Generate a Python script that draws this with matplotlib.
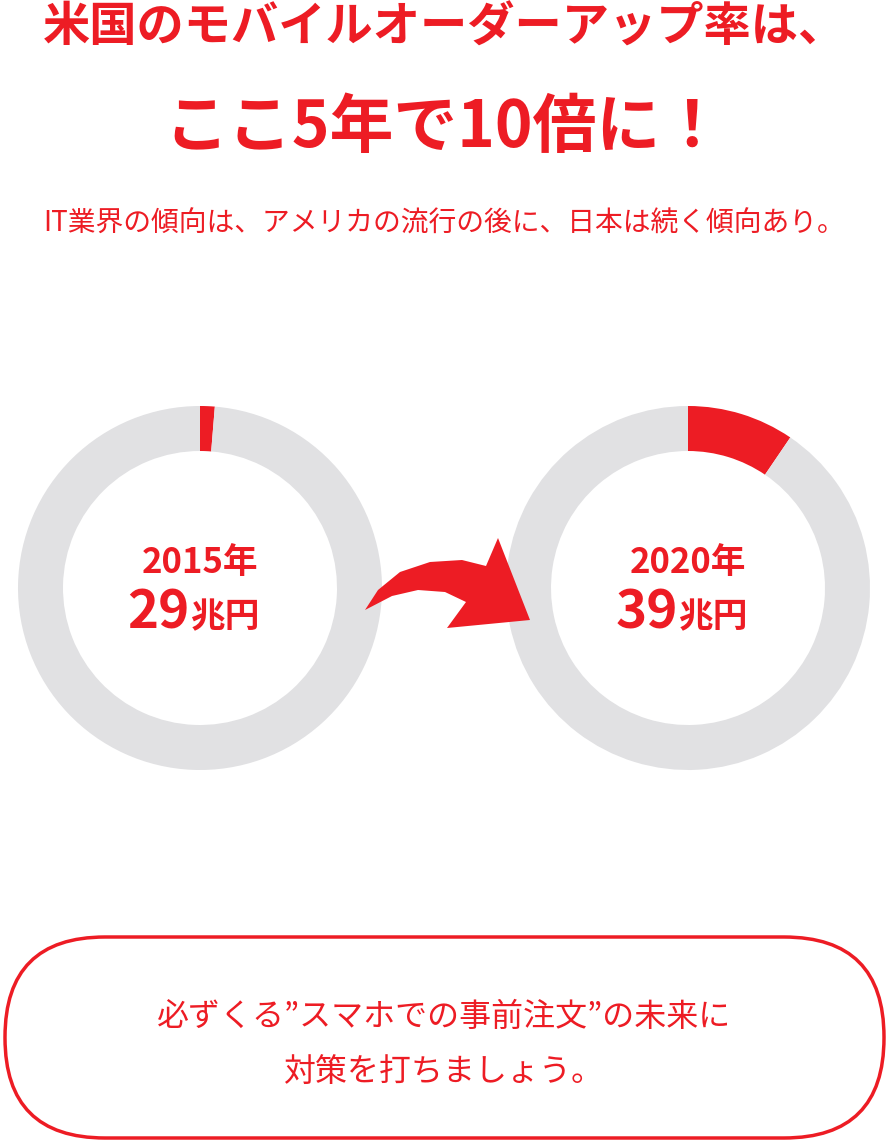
import matplotlib
matplotlib.use("Agg")
import matplotlib.pyplot as plt
from matplotlib.patches import FancyBboxPatch, Polygon

plt.rcParams['font.family'] = ['Noto Sans CJK JP', 'DejaVu Sans']

RED = '#ED1C24'
GRAY = '#E1E1E3'

years = ['2015年', '2020年']
amounts = ['29', '39']
mobile_share = [1.3, 9.5]   # % of the ring in red
centers = [(200, 588), (688, 588)]

fig = plt.figure(figsize=(8.89, 11.42), dpi=100)
ax = fig.add_axes([0, 0, 1, 1])

for (cx, cy), share, yr, amt in zip(centers, mobile_share, years, amounts):
    # y axis is inverted, so counterclock in data = clockwise on screen
    ax.pie([share, 100 - share], colors=[RED, GRAY], startangle=-90, counterclock=True,
           center=(cx, cy), radius=182, wedgeprops=dict(width=45, linewidth=0))
    ax.text(cx, cy - 25, yr, ha='center', va='center', fontsize=25, fontweight='bold', color=RED)
    ax.text(cx - 10, cy + 25, amt, ha='right', va='center', fontsize=38, fontweight='bold', color=RED)
    ax.text(cx - 10, cy + 29, '兆円', ha='left', va='center', fontsize=25, fontweight='bold', color=RED)

# curved arrow between the rings
arrow = Polygon([(365, 610), (378, 590), (400, 572), (430, 562), (462, 560), (486, 566),
                 (498, 538), (530, 620), (447, 628), (466, 602), (445, 592),
                 (418, 590), (392, 596)], closed=True, color=RED, lw=0)
ax.add_patch(arrow)

ax.text(444, 28, '米国のモバイルオーダーアップ率は、', ha='center', va='center',
        fontsize=34, fontweight='bold', color=RED)
ax.text(444, 128, 'ここ5年で10倍に！', ha='center', va='center',
        fontsize=46, fontweight='bold', color=RED)
ax.text(444, 224, 'IT業界の傾向は、アメリカの流行の後に、日本は続く傾向あり。', ha='center',
        va='center', fontsize=20, color=RED)

box = FancyBboxPatch((5, 937), 879, 201, boxstyle='round,pad=0,rounding_size=100',
                     fc='white', ec=RED, lw=2.5)
ax.add_patch(box)
ax.text(444, 1017, '必ずくる”スマホでの事前注文”の未来に', ha='center', va='center',
        fontsize=23, color=RED)
ax.text(444, 1072, '対策を打ちましょう。', ha='center', va='center', fontsize=23, color=RED)

ax.set_xlim(0, 889)
ax.set_ylim(1142, 0)
ax.set_aspect('equal')
ax.axis('off')
fig.savefig('out.png', dpi=100)
